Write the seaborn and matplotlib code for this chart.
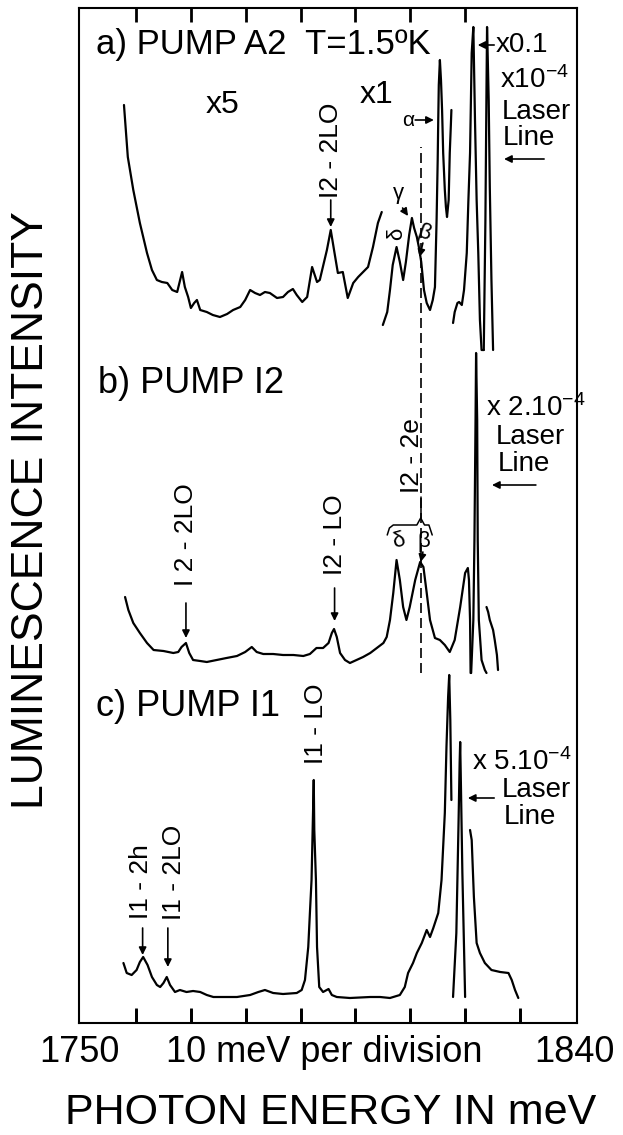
import matplotlib
matplotlib.use("Agg")
import matplotlib.pyplot as plt
import pandas as pd
import seaborn as sns

# ---------------- data: photon energy (meV) and stacked luminescence intensity (arb. units) ----------------
# a) PUMP A2 -- x5 part
a_x5_energy = [1757.8, 1758.5, 1759.5, 1760.7, 1762.0, 1762.9, 1763.8, 1764.7, 1765.7, 1766.6,
               1767.5, 1768.4, 1768.9, 1769.5, 1770.0, 1770.6, 1771.1, 1771.7, 1772.9, 1774.0,
               1775.3, 1776.6, 1777.7, 1779.0, 1779.9, 1780.8, 1781.7, 1782.6, 1783.5, 1784.4,
               1785.7, 1786.8, 1787.7, 1788.6, 1789.3, 1790.3, 1791.2, 1792.1, 1793.0, 1793.5,
               1794.8, 1795.5, 1796.1, 1796.8, 1797.7, 1798.6, 1799.6, 1800.5, 1801.4, 1802.3,
               1803.2, 1804.1, 1804.8]
a_x5_intensity = [918, 866, 833, 800, 770, 753, 743, 741, 740, 733,
                  731, 751, 736, 726, 715, 720, 723, 713, 711, 708,
                  706, 709, 713, 716, 723, 733, 730, 728, 731, 730,
                  725, 726, 731, 734, 728, 721, 726, 756, 741, 743,
                  773, 793, 773, 750, 751, 725, 740, 746, 751, 756,
                  776, 800, 811]
# a) x1 part
a_x1_energy = [1805.0, 1805.8, 1806.3, 1806.8, 1807.5, 1808.1, 1808.7, 1809.2, 1809.8, 1810.3,
               1810.7, 1811.2, 1811.6, 1812.0, 1812.5, 1813.0, 1813.6, 1814.1, 1814.5, 1814.8,
               1815.0, 1815.1, 1815.2, 1815.4, 1815.6, 1815.8, 1816.0, 1816.3, 1816.5, 1816.7,
               1817.0, 1817.2, 1817.4, 1817.5]
a_x1_intensity = [698, 711, 733, 758, 776, 761, 743, 761, 788, 805,
                  795, 786, 775, 761, 733, 720, 713, 723, 736, 803,
                  863, 903, 938, 963, 943, 913, 870, 833, 816, 806,
                  823, 870, 898, 913]
# a) x0.1 part
a_x01_energy = [1817.8, 1818.1, 1818.6, 1818.9, 1819.4, 1819.8, 1820.3, 1820.6, 1820.9, 1821.2,
                1821.5, 1821.8, 1822.1, 1822.4, 1822.7, 1823.0, 1823.4]
a_x01_intensity = [700, 711, 720, 721, 718, 733, 770, 823, 870, 970,
                   996, 903, 823, 770, 703, 673, 673]
# a) laser line (x10^-4)
a_laser_energy = [1823.4, 1823.7, 1823.9, 1824.0, 1824.3, 1824.5, 1824.8, 1825.1]
a_laser_intensity = [673, 803, 936, 996, 923, 836, 743, 673]

# b) PUMP I2
b_main_energy = [1758.0, 1758.6, 1759.5, 1760.7, 1762.0, 1763.2, 1765.0, 1766.8, 1767.7, 1768.3,
                 1769.1, 1769.7, 1770.4, 1771.7, 1772.9, 1774.7, 1776.5, 1778.4, 1779.9, 1781.1,
                 1782.0, 1783.2, 1785.0, 1786.8, 1788.7, 1790.5, 1791.7, 1792.9, 1794.1, 1795.1,
                 1795.7, 1796.1, 1796.6, 1797.2, 1798.1, 1799.0, 1800.2, 1801.4, 1802.7, 1803.9,
                 1805.1, 1805.7, 1806.3, 1806.9, 1807.5, 1808.1, 1808.7, 1809.3, 1809.9, 1810.9,
                 1811.8, 1812.4, 1813.0, 1813.6, 1814.5, 1815.4, 1816.3, 1817.2, 1818.1, 1819.1,
                 1820.0, 1820.5, 1820.7, 1820.9, 1821.0]
b_main_intensity = [426, 413, 400, 390, 380, 373, 372, 370, 371, 376,
                    380, 370, 363, 362, 361, 363, 365, 367, 371, 376,
                    371, 369, 369, 368, 368, 367, 369, 375, 375, 380,
                    390, 394, 386, 370, 363, 360, 363, 366, 370, 375,
                    380, 386, 403, 430, 463, 443, 416, 403, 416, 443,
                    461, 456, 430, 403, 385, 383, 378, 371, 383, 416,
                    450, 455, 443, 403, 350]
b_laser_energy = [1821.1, 1821.2, 1821.5, 1821.7, 1821.9, 1822.0, 1822.2, 1822.3, 1822.5, 1823.0,
                  1823.6, 1823.9]
b_laser_intensity = [350, 363, 403, 483, 603, 670, 603, 483, 403, 363, 353, 350]
b_tail_energy = [1823.9, 1824.2, 1824.5, 1825.1, 1825.4, 1825.8, 1826.0]
b_tail_intensity = [416, 411, 403, 393, 383, 368, 353]

# c) PUMP I1
c_main_energy = [1757.7, 1758.3, 1759.2, 1760.1, 1760.7, 1761.3, 1762.1, 1762.9, 1763.8, 1764.4,
                 1765.0, 1765.6, 1766.2, 1767.1, 1768.0, 1769.2, 1770.4, 1771.7, 1772.9, 1774.1,
                 1775.9, 1778.4, 1780.8, 1782.3, 1783.5, 1785.0, 1786.8, 1789.3, 1790.2, 1790.8,
                 1791.4, 1791.7, 1792.0, 1792.2, 1792.4, 1792.5, 1792.8, 1793.0, 1793.4, 1794.1,
                 1795.1, 1795.7, 1796.6, 1799.0, 1802.7, 1804.5, 1806.3, 1808.1, 1809.0, 1809.6,
                 1810.5, 1811.2, 1812.1, 1813.0, 1813.6, 1814.2, 1815.1, 1815.7, 1816.3, 1816.6,
                 1816.9, 1817.1, 1817.3, 1817.5]
c_main_intensity = [60, 50, 48, 53, 61, 66, 58, 46, 38, 36,
                    40, 46, 38, 31, 33, 31, 32, 31, 28, 26,
                    26, 26, 28, 31, 33, 30, 29, 30, 33, 43,
                    76, 110, 143, 193, 243, 193, 143, 76, 36, 31,
                    34, 28, 26, 25, 26, 26, 25, 28, 36, 50,
                    60, 70, 80, 93, 86, 95, 110, 143, 210, 276,
                    326, 348, 303, 223]
c_laser_energy = [1817.8, 1818.4, 1818.8, 1819.0, 1819.1, 1819.2, 1819.5, 1820.0]
c_laser_intensity = [26, 90, 200, 260, 281, 250, 150, 26]
c_tail_energy = [1820.9, 1821.2, 1821.6, 1822.1, 1822.7, 1823.6, 1824.8, 1826.4, 1827.9, 1828.5,
                 1829.1, 1829.7]
c_tail_intensity = [193, 183, 126, 80, 70, 60, 53, 51, 50, 43, 33, 25]

tick_energies = [1760, 1770, 1780, 1790, 1800, 1810, 1820, 1830]
top_tick_energies = [1760, 1770, 1780, 1790, 1800, 1810, 1820]
x_range = (1749.6, 1840.4)
edge_labels = ["1750", "1840"]
division_label = "10 meV per division"

segments = {
    "a_x5": (a_x5_energy, a_x5_intensity),
    "a_x1": (a_x1_energy, a_x1_intensity),
    "a_x01": (a_x01_energy, a_x01_intensity),
    "a_laser": (a_laser_energy, a_laser_intensity),
    "b_main": (b_main_energy, b_main_intensity),
    "b_laser": (b_laser_energy, b_laser_intensity),
    "b_tail": (b_tail_energy, b_tail_intensity),
    "c_main": (c_main_energy, c_main_intensity),
    "c_laser": (c_laser_energy, c_laser_intensity),
    "c_tail": (c_tail_energy, c_tail_intensity),
}
frames = []
for name, (e, i) in segments.items():
    frames.append(pd.DataFrame({"energy": e, "intensity": i, "segment": name}))
df = pd.concat(frames, ignore_index=True)

# ---------------- styling ----------------
sns.set_style("ticks")
plt.rcParams["font.family"] = ["Liberation Sans", "DejaVu Sans"]
plt.rcParams["mathtext.fontset"] = "custom"
plt.rcParams["mathtext.rm"] = "Liberation Sans"
plt.rcParams["mathtext.it"] = "Liberation Sans:italic"
plt.rcParams["mathtext.bf"] = "Liberation Sans:bold"
plt.rcParams["text.color"] = "black"
plt.rcParams["axes.edgecolor"] = "black"
plt.rcParams["xtick.color"] = "black"

W, H = 623, 1135
fig = plt.figure(figsize=(W / 100, H / 100), dpi=100)
fig.patch.set_facecolor("white")
ax = fig.add_axes([79 / W, 1 - 1023 / H, 498 / W, 1015 / H])

sns.lineplot(data=df, x="energy", y="intensity", units="segment", estimator=None,
             sort=False, color="black", linewidth=1.6, legend=False, ax=ax)

ax.set_xlim(*x_range)
ax.set_ylim(0, 1015)
ax.set_xlabel("")
ax.set_ylabel("")
ax.set_yticks([])
ax.set_xticks(tick_energies)
ax.tick_params(axis="x", which="major", direction="in", length=11, width=2.0,
               color="black", bottom=True, top=False, labelbottom=False)
for s in ax.spines.values():
    s.set_visible(True)
    s.set_color("black")
    s.set_linewidth(1.5)

# inward division marks on the bottom and top frame
xt = ax.get_xaxis_transform()
ax.vlines(tick_energies, 0, 0.014, transform=xt, colors="black", linewidth=2.0, clip_on=False)
ax.vlines(top_tick_energies, 0.986, 1.0, transform=xt, colors="black", linewidth=2.0, clip_on=False)

# dashed guide line (I2 - 2e)
ax.vlines(1811.9, 350, 876, colors="black", linestyles=(0, (6, 3)), linewidth=1.2)

arrow_kw = dict(arrowstyle="-|>", color="black", lw=1.2, mutation_scale=11, shrinkA=0, shrinkB=0)


def arrow(x0, y0, x1, y1):
    ax.annotate("", xy=(x1, y1), xytext=(x0, y0), arrowprops=arrow_kw)


# panel a
ax.text(1752.7, 979, "a) PUMP A2  T=1.5ºK", fontsize=25, ha="left", va="center")
ax.text(1775.7, 918, "x5", fontsize=23, ha="center", va="center")
ax.text(1803.9, 928, "x1", fontsize=23, ha="center", va="center")
ax.text(1795.5, 873, "I2 - 2LO", fontsize=19, rotation=90, ha="center", va="center")
arrow(1795.5, 823, 1795.5, 796)
ax.text(1809.6, 903, "α", fontsize=15, ha="center", va="center")
arrow(1810.9, 903, 1814.3, 903)
ax.text(1807.8, 830, "γ", fontsize=16, ha="center", va="center")
arrow(1808.6, 815, 1809.6, 807)
ax.text(1807.5, 789, "δ", fontsize=16, rotation=90, ha="center", va="center")
ax.text(1812.6, 790, "β", fontsize=16, rotation=-20, ha="center", va="center")
arrow(1812.3, 780, 1811.7, 766)
arrow(1825.3, 978, 1822.3, 978)
ax.text(1825.6, 978, "x0.1", fontsize=20, ha="left", va="center")
ax.text(1826.4, 943, "x10$^{-4}$", fontsize=20, ha="left", va="center")
ax.text(1826.7, 911, "Laser", fontsize=20, ha="left", va="center")
ax.text(1826.9, 885, "Line", fontsize=20, ha="left", va="center")
arrow(1834.4, 864, 1827.1, 864)

# panel b
ax.text(1753.1, 640, "b) PUMP I2", fontsize=26, ha="left", va="center")
ax.text(1769.1, 488, "I 2 - 2LO", fontsize=19, rotation=90, ha="center", va="center")
arrow(1769.1, 420, 1769.1, 385)
ax.text(1796.2, 488, "I2 - LO", fontsize=19, rotation=90, ha="center", va="center")
arrow(1796.2, 435, 1796.2, 402)
ax.text(1810.3, 567, "I2 - 2e", fontsize=19, rotation=90, ha="center", va="center")
brace_e = [1805.8, 1806.2, 1806.9, 1811.2, 1811.9, 1812.6, 1813.4, 1814.0]
brace_y = [488, 495, 498, 498, 505, 498, 498, 488]
ax.plot(brace_e, brace_y, color="black", lw=1.1)
ax.plot([1811.9, 1811.9], [505, 526], color="black", lw=1.1)
ax.text(1807.8, 482, "δ", fontsize=16, rotation=15, ha="center", va="center")
ax.text(1812.4, 482, "β", fontsize=16, ha="center", va="center")
arrow(1812.3, 471, 1811.9, 461)
ax.text(1823.8, 615, "x 2.10$^{-4}$", fontsize=20, ha="left", va="center")
ax.text(1825.6, 586, "Laser", fontsize=20, ha="left", va="center")
ax.text(1826.0, 559, "Line", fontsize=20, ha="left", va="center")
arrow(1832.9, 538, 1824.9, 538)

# panel c
ax.text(1752.7, 317, "c) PUMP I1", fontsize=26, ha="left", va="center")
ax.text(1792.8, 299, "I1 - LO", fontsize=19, rotation=90, ha="center", va="center")
ax.text(1760.9, 141, "I1 - 2h", fontsize=19, rotation=90, ha="center", va="center")
arrow(1761.2, 95, 1761.2, 68)
ax.text(1767.0, 151, "I1 - 2LO", fontsize=19, rotation=90, ha="center", va="center")
arrow(1765.8, 95, 1765.8, 56)
ax.text(1821.3, 261, "x 5.10$^{-4}$", fontsize=20, ha="left", va="center")
ax.text(1826.7, 233, "Laser", fontsize=20, ha="left", va="center")
ax.text(1827.1, 206, "Line", fontsize=20, ha="left", va="center")
arrow(1825.3, 225, 1820.5, 225)

# axis texts (figure pixel positions)
fig.text(79.5 / W, 1 - 1053 / H, edge_labels[0], fontsize=26, ha="center", va="center")
fig.text(574 / W, 1 - 1053 / H, edge_labels[1], fontsize=26, ha="center", va="center")
fig.text(324 / W, 1 - 1053 / H, division_label, fontsize=26, ha="center", va="center")
fig.text(331 / W, 1 - 1113 / H, "PHOTON ENERGY IN meV", fontsize=31, ha="center", va="center")
fig.text(32 / W, 1 - 510 / H, "LUMINESCENCE INTENSITY", fontsize=32, rotation=90,
         ha="center", va="center")

fig.savefig("out.png", dpi=100, facecolor="white")
